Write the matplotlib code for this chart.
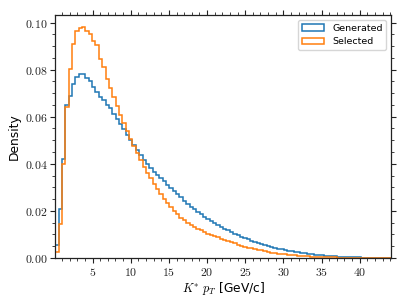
import numpy as np
import matplotlib
matplotlib.use("Agg")
import matplotlib.pyplot as plt
from matplotlib.ticker import FuncFormatter, MultipleLocator

plt.rcParams['mathtext.fontset'] = 'cm'

# 100 bins, 0.44 GeV wide
bin_edges = np.linspace(0.1, 44.1, 101)
bin_centers = 0.5 * (bin_edges[:-1] + bin_edges[1:])

generated = [
    0.0055, 0.0208, 0.0420, 0.0650, 0.0690, 0.0740, 0.0770, 0.0780, 0.0780, 0.0765,
    0.0750, 0.0726, 0.0705, 0.0685, 0.0670, 0.0650, 0.0635, 0.0610, 0.0590, 0.0570,
    0.0548, 0.0524, 0.0500, 0.0478, 0.0457, 0.0437, 0.0418, 0.0400, 0.0383, 0.0367,
    0.0352, 0.0338, 0.0325, 0.0312, 0.0299, 0.0286, 0.0272, 0.0258, 0.0244, 0.0230,
    0.0217, 0.0206, 0.0196, 0.0186, 0.0176, 0.0167, 0.0157, 0.0148, 0.0140, 0.0132,
    0.0124, 0.0117, 0.0110, 0.0103, 0.0097, 0.0091, 0.0085, 0.0079, 0.0074, 0.0069,
    0.0064, 0.0059, 0.0055, 0.0051, 0.0047, 0.0043, 0.0040, 0.0037, 0.0034, 0.0031,
    0.0028, 0.0026, 0.0024, 0.0022, 0.0020, 0.0018, 0.0016, 0.0014, 0.0013, 0.0011,
    0.0010, 0.0009, 0.0008, 0.0007, 0.0006, 0.0005, 0.00045, 0.0004, 0.00035, 0.0003,
    0.00025, 0.0002, 0.00017, 0.00014, 0.00011, 0.00009, 0.00007, 0.00005, 0.00003, 0.00002,
]

selected = [
    0.0024, 0.0143, 0.0400, 0.0640, 0.0804, 0.0910, 0.0963, 0.0977, 0.0983, 0.0963,
    0.0952, 0.0921, 0.0903, 0.0846, 0.0811, 0.0761, 0.0720, 0.0683, 0.0646, 0.0609,
    0.0574, 0.0540, 0.0506, 0.0474, 0.0444, 0.0415, 0.0388, 0.0362, 0.0338, 0.0315,
    0.0293, 0.0272, 0.0252, 0.0233, 0.0215, 0.0199, 0.0185, 0.0172, 0.0160, 0.0149,
    0.0139, 0.0131, 0.0124, 0.0117, 0.0110, 0.0104, 0.0098, 0.0093, 0.0088, 0.0082,
    0.0077, 0.0072, 0.0067, 0.0062, 0.0057, 0.0052, 0.0048, 0.0044, 0.0041, 0.0038,
    0.0035, 0.0032, 0.0029, 0.0026, 0.0023, 0.0021, 0.0019, 0.0017, 0.0015, 0.0013,
    0.0012, 0.0011, 0.0010, 0.0009, 0.0008, 0.0007, 0.0006, 0.00055, 0.0005, 0.00045,
    0.0004, 0.00035, 0.0003, 0.00025, 0.0002, 0.00018, 0.00015, 0.00012, 0.0001, 0.00008,
    0.00007, 0.00006, 0.00005, 0.00004, 0.00003, 0.00002, 0.00002, 0.00001, 0.00001, 0.00001,
]

labels = ['Generated', 'Selected']

fig = plt.figure(figsize=(4.07, 3.05), dpi=100)
ax = fig.add_axes([0.1356, 0.1541, 0.9607 - 0.1356, 0.9508 - 0.1541])

ax.hist(bin_centers, bins=bin_edges, weights=generated, histtype='step',
        color='#1f77b4', lw=1.1, label=labels[0])
ax.hist(bin_centers, bins=bin_edges, weights=selected, histtype='step',
        color='#ff7f0e', lw=1.1, label=labels[1])

ax.set_xlim(bin_edges[0], bin_edges[-1])
ax.set_ylim(0, 0.1032)

ax.xaxis.set_major_locator(MultipleLocator(5))
ax.xaxis.set_minor_locator(MultipleLocator(1))
ax.yaxis.set_major_locator(MultipleLocator(0.02))
ax.yaxis.set_minor_locator(MultipleLocator(0.005))
ax.xaxis.set_major_formatter(FuncFormatter(lambda v, p: '$%g$' % v))
ax.yaxis.set_major_formatter(FuncFormatter(lambda v, p: '$%.2f$' % v))
ax.tick_params(which='both', direction='out', top=True, right=True,
               labelsize=8.5, color='#222222', labelcolor='#222222', pad=2)
ax.tick_params(which='major', length=3.5, width=0.8)
ax.tick_params(which='minor', length=2, width=0.6)
for s in ax.spines.values():
    s.set_linewidth(0.9)
    s.set_color('#222222')

ax.set_xlabel(r'$K^{*}\ p_T$ [GeV/c]', fontsize=8.8, labelpad=1)
ax.set_ylabel('Density', fontsize=8.8, labelpad=3)
ax.legend(loc='upper right', fontsize=6.8, framealpha=0.8, borderaxespad=0.5,
          handlelength=2.4)

fig.savefig('out.png', dpi=100)
